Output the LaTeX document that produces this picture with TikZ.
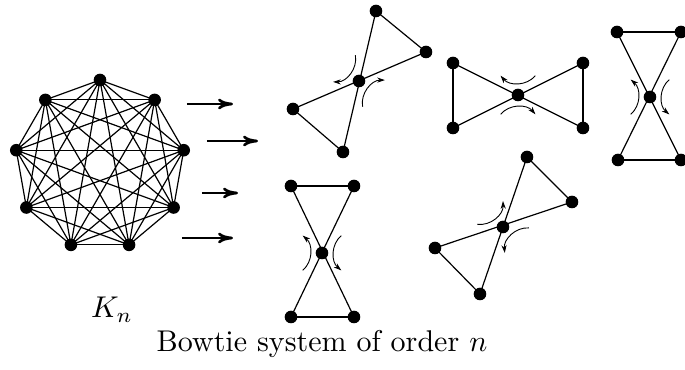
\documentclass[tikz,border=0pt]{standalone}
\usetikzlibrary{arrows.meta}
\begin{document}
\begin{tikzpicture}[x=0.3333pt,y=0.3333pt,
  dot/.style={circle,fill=black,inner sep=0pt,minimum size=4.2pt},
  edge/.style={line width=0.4pt},
  imp/.style={line width=0.9pt,-{To[length=5pt,width=3.6pt]}},
  flow/.style={line width=0.3pt,-{Stealth[length=2.6pt,width=1.7pt]}}]
\useasboundingbox (0,0) rectangle (685,370);
\begin{scope}[shift={(100,205)}]
\foreach \i in {0,...,8} \node[dot] (k\i) at ({90+40*\i}:85) {};
\end{scope}
\foreach \i in {0,...,7} {
  \pgfmathtruncatemacro\nxt{\i+1}
  \foreach \j in {\nxt,...,8} \draw[edge] (k\i.center)--(k\j.center);
}
\foreach \n/\xa/\xb/\y in {1/187/233/266,2/207/258/229,3/202/238/177,4/182/233/132} {
  \coordinate (s\n) at (\xa,\y);
  \coordinate (t\n) at (\xb,\y);
  \draw[imp] (s\n)--(t\n);
}
\foreach \n/\x/\y in {ac/359/289,a1/376/359,a2/426/318,a3/293/261,a4/343/218,
  bc/518/275,b1/453/307,b2/453/242,b3/583/307,b4/583/242,
  cc/650/273,c1/617/338,c2/681/338,c3/618/210,c4/681/210,
  dc/322/117,d1/291/184,d2/354/184,d3/291/53,d4/354/53,
  ec/503/143,e1/527/213,e2/572/168,e3/435/122,e4/480/76}
  \node[dot] (\n) at (\x,\y) {};
\foreach \a/\b in {a1/a4,a3/a2,a1/a2,a3/a4,b1/b2,b3/b4,b1/b4,b2/b3,
  c1/c2,c3/c4,c1/c4,c2/c3,d1/d2,d3/d4,d1/d4,d2/d3,e1/e4,e3/e2,e1/e2,e3/e4}
  \draw[edge] (\a.center)--(\b.center);
\foreach \c/\t in {ac/140,ac/-40,bc/90,bc/270}
  \draw[flow] ([shift={(\t-42:26)}]\c.center) to[bend left=50] ([shift={(\t+42:26)}]\c.center);
\foreach \c/\t in {cc/180,cc/0,dc/180,dc/0,ec/132,ec/-44}
  \draw[flow] ([shift={(\t+42:26)}]\c.center) to[bend right=50] ([shift={(\t-42:26)}]\c.center);
\node[anchor=base] (kn) at (112,52) {$K_n$};
\node[anchor=base] (cap) at (322,18) {Bowtie system of order $n$};
\end{tikzpicture}
\end{document}
